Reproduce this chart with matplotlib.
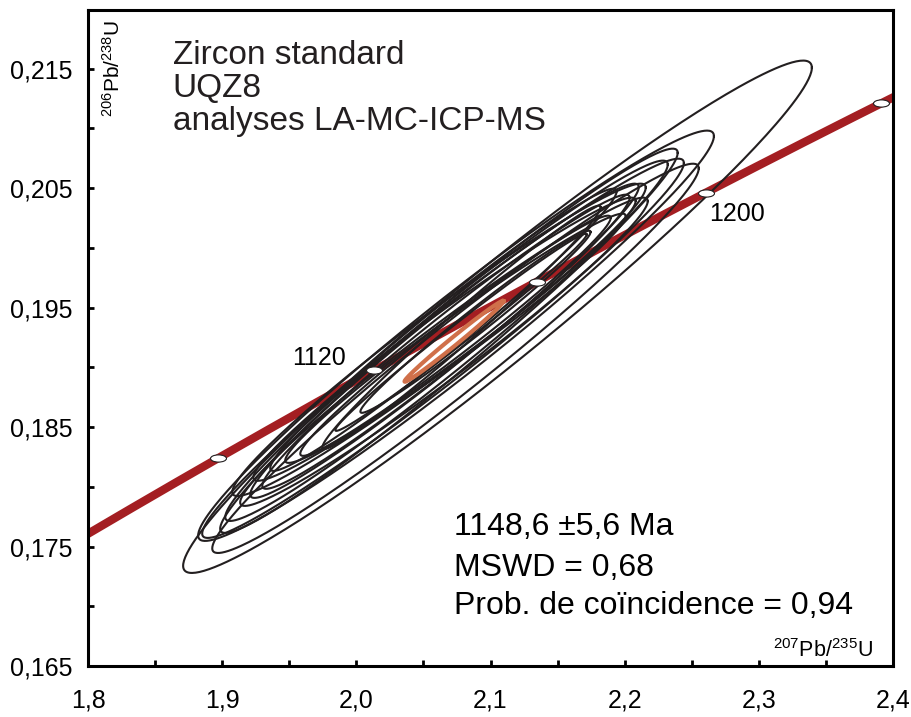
import numpy as np
import matplotlib.pyplot as plt
from matplotlib.path import Path
from matplotlib.transforms import Affine2D

plt.rcParams['font.family'] = ['Liberation Sans', 'DejaVu Sans']
plt.rcParams['mathtext.fontset'] = 'custom'
plt.rcParams['mathtext.rm'] = 'Liberation Sans'

# decay constants (1/yr)
lam238 = 1.55125e-10
lam235 = 9.8485e-10

# analyses: 207Pb/235U centre, half range, 206Pb/238U centre, half range, rho
pb207 = [2.1052, 2.0743, 2.0739, 2.0646, 2.0690, 2.0672, 2.0616, 2.0653, 2.0657,
         2.0657, 2.0668, 2.0649, 2.0739, 2.0739, 2.0784, 2.0888, 2.0780]
err207 = [0.2343, 0.1922, 0.1813, 0.1795, 0.1705, 0.1649, 0.1541, 0.1519, 0.1448,
          0.1425, 0.1369, 0.1291, 0.1269, 0.1157, 0.1037, 0.0858, 0.0937]
pb206 = [0.19423, 0.19264, 0.19075, 0.19159, 0.19222, 0.19222, 0.19230, 0.19130, 0.19222,
         0.19235, 0.19214, 0.19314, 0.19243, 0.19264, 0.19335, 0.19381, 0.19293]
err206 = [0.02144, 0.01717, 0.01629, 0.01587, 0.01608, 0.01508, 0.01307, 0.01290, 0.01315,
          0.01185, 0.01231, 0.01181, 0.01043, 0.01005, 0.01018, 0.00762, 0.00825]
rho = [0.972, 0.973, 0.976, 0.977, 0.978, 0.978, 0.975, 0.977, 0.978,
       0.977, 0.979, 0.981, 0.980, 0.982, 0.986, 0.986, 0.992]

# mean (concordia) ellipse
mean_ell = (2.0728, 0.0369, 0.19218, 0.00339, 0.992)

marker_ages = [1080, 1120, 1160, 1200, 1240]
labelled_ages = [1120, 1200]

xticks = [1.8, 1.9, 2.0, 2.1, 2.2, 2.3, 2.4]
xticklabels = ['1,8', '1,9', '2,0', '2,1', '2,2', '2,3', '2,4']
yticks = [0.165, 0.175, 0.185, 0.195, 0.205, 0.215]
yticklabels = ['0,165', '0,175', '0,185', '0,195', '0,205', '0,215']


def concordia(age_ma):
    t = np.asarray(age_ma) * 1e6
    return np.exp(lam235 * t) - 1, np.exp(lam238 * t) - 1


def ellipse(cx, ex, cy, ey, r, n=300):
    t = np.linspace(0, 2 * np.pi, n)
    x = cx + ex * np.cos(t)
    y = cy + ey * (r * np.cos(t) + np.sqrt(1 - r ** 2) * np.sin(t))
    return x, y


fig = plt.figure(figsize=(9.12, 7.17), dpi=100)
ax = fig.add_axes([0.0965, 0.0711, 0.8827, 0.9149])

# concordia curve
ages = np.linspace(1000, 1300, 400)
cx, cy = concordia(ages)
ax.plot(cx, cy, color='#a41e22', lw=6, zorder=1, solid_capstyle='butt')

for i in range(len(pb207)):
    ex, ey = ellipse(pb207[i], err207[i], pb206[i], err206[i], rho[i])
    ax.plot(ex, ey, color='#231f20', lw=1.5, zorder=2)

ex, ey = ellipse(*mean_ell)
ax.plot(ex, ey, color='#d0704a', lw=3, zorder=3)

# age markers
ell_marker = Path.unit_circle().transformed(Affine2D().scale(1.0, 0.45))
mx, my = concordia(marker_ages)
ax.plot(mx, my, ls='none', marker=ell_marker, ms=11.5, mfc='white',
        mec='#231f20', mew=0.8, zorder=4, clip_on=False)

lx, ly = concordia(labelled_ages)
ax.text(lx[0] - 0.021, ly[0] + 0.0010, '1120', fontsize=18, ha='right', va='center')
ax.text(lx[1] + 0.003, ly[1] - 0.0018, '1200', fontsize=18, ha='left', va='center')

ax.set_xlim(1.8, 2.4)
ax.set_ylim(0.165, 0.2199)
ax.set_xticks(xticks)
ax.set_xticklabels(xticklabels)
ax.set_yticks(yticks)
ax.set_yticklabels(yticklabels)
ax.set_xticks(np.arange(1.85, 2.4, 0.1), minor=True)
ax.set_yticks(np.arange(0.170, 0.2199, 0.01), minor=True)
ax.tick_params(which='both', direction='in', length=4, width=2)
ax.tick_params(axis='x', labelsize=18, pad=16)
ax.tick_params(axis='y', labelsize=18, pad=11)
for s in ax.spines.values():
    s.set_linewidth(2.2)

ax.text(0.105, 0.955, 'Zircon standard\nUQZ8\nanalyses LA-MC-ICP-MS',
        transform=ax.transAxes, fontsize=24, va='top', ha='left',
        linespacing=1.1, color='#231f20')
ax.text(0.455, 0.212, '1148,6 \u00b15,6 Ma', transform=ax.transAxes,
        fontsize=23, va='center', ha='left')
ax.text(0.455, 0.150, 'MSWD = 0,68', transform=ax.transAxes,
        fontsize=23, va='center', ha='left')
ax.text(0.455, 0.091, 'Prob. de co\u00efncidence = 0,94', transform=ax.transAxes,
        fontsize=23, va='center', ha='left')
ax.text(0.975, 0.006, r'$\mathregular{^{207}Pb/^{235}U}$', transform=ax.transAxes,
        fontsize=15.5, ha='right', va='bottom')
ax.text(0.017, 0.985, r'$\mathregular{^{206}Pb/^{238}U}$', transform=ax.transAxes,
        fontsize=15, ha='left', va='top', rotation=90)

fig.savefig('out.png', dpi=100)
